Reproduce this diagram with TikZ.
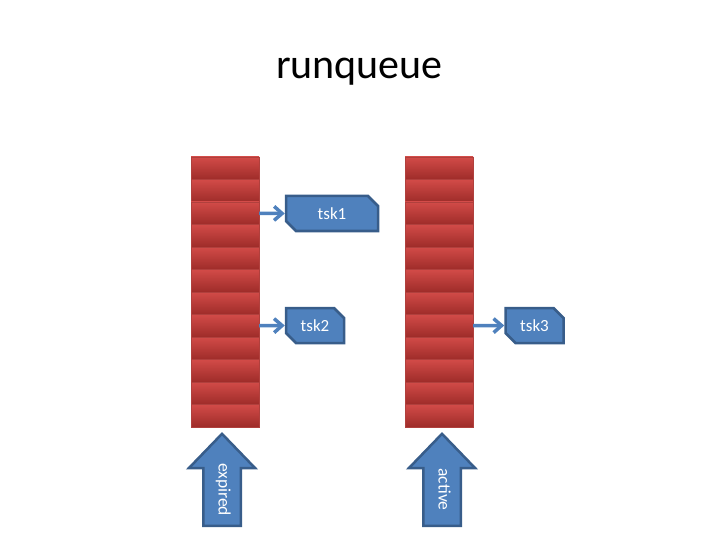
\documentclass[tikz,border=0pt]{standalone}
\usepackage{fontspec}
\setmainfont{Carlito}
\usetikzlibrary{arrows.meta,positioning,shapes.misc,shapes.arrows}
\definecolor{taskc}{HTML}{4F81BD}
\definecolor{taskdk}{HTML}{385D8A}
\definecolor{cellhi}{HTML}{D24B48}
\definecolor{celllo}{HTML}{9E2C29}
\definecolor{cellln}{HTML}{B0403D}
\tikzset{
  cell/.style={rectangle,inner sep=0pt,minimum width=68pt,minimum height=22.5pt,top color=cellhi,bottom color=celllo,draw=cellln,line width=0.4pt},
  tskbox/.style={chamfered rectangle,chamfered rectangle corners={north east,south west},chamfered rectangle xsep=5pt,chamfered rectangle ysep=5pt,fill=taskc,draw=taskdk,line width=2.5pt,text=white,font=\fontsize{17}{20}\selectfont,minimum height=35pt,inner sep=0pt},
  link/.style={-{Straight Barb[length=8pt,width=14pt]},line width=3.5pt,taskc},
  bigarr/.style={single arrow,shape border rotate=180,rotate=-90,fill=taskc,draw=taskdk,line width=2.5pt,text=white,font=\fontsize{17.5}{20}\selectfont,minimum height=92pt,minimum width=64pt,single arrow head extend=14.5pt,single arrow tip angle=88,text height=10pt,text depth=3pt,inner ysep=11pt,inner xsep=0pt}
}
\begin{document}
\begin{tikzpicture}[x=1pt,y=-1pt]
\useasboundingbox (0,0) rectangle (720,540);
\node[font=\fontsize{42}{50}\selectfont,anchor=base] (title) at (359.5,79) {runqueue};
% the two queues
\foreach \i in {1,...,12}{
  \node[cell] (ex\i) at (225,{145.75+22.5*\i}) {};
  \node[cell] (ac\i) at (439,{145.75+22.5*\i}) {};
}
\node[tskbox,minimum width=92pt] (tsk1) at (332,213.5) {tsk1};
\node[tskbox,minimum width=58pt] (tsk2) at (315,325.5) {tsk2};
\node[tskbox,minimum width=58pt] (tsk3) at (534.5,325.5) {tsk3};
\draw[link] (ex3.east) -- (tsk1.west);
\draw[link] (ex8.east) -- (tsk2.west);
\draw[link] (ac8.east) -- (tsk3.west);
% pointers
\node[bigarr,anchor=tip] (expq) at (222,432) {expired};
\node[bigarr,anchor=tip] (actq) at (442,432) {active};
\end{tikzpicture}
\end{document}
